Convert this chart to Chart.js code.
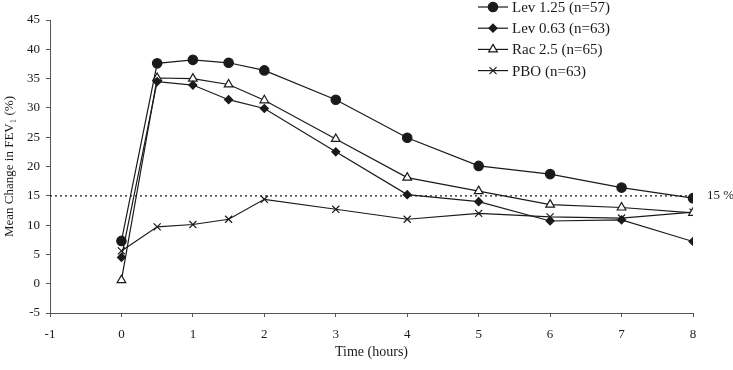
<!DOCTYPE html>
<html>
<head>
<meta charset="utf-8">
<script src="https://cdn.jsdelivr.net/npm/chart.js@4/dist/chart.umd.min.js"></script>
<style>
    body { margin: 0; background: #fff; }
    #wrap { width: 733px; height: 370px; }
</style>
</head>
<body>
<div id="wrap"><canvas id="fevChart" width="733" height="370"></canvas></div>
<script>
// time points (hours) and mean change in FEV1 (%)
const hours = [0, 0.5, 1, 1.5, 2, 3, 4, 5, 6, 7, 8];
const lev125 = [7.3, 37.6, 38.2, 37.7, 36.4, 31.4, 24.9, 20.1, 18.7, 16.4, 14.6];
const lev063 = [4.5, 34.5, 33.9, 31.4, 29.9, 22.5, 15.2, 14.0, 10.7, 10.9, 7.2];
const rac25 = [0.6, 35.1, 35.0, 34.0, 31.3, 24.7, 18.1, 15.8, 13.5, 13.0, 12.1];
const pbo = [5.6, 9.7, 10.1, 11.0, 14.4, 12.7, 11.0, 12.0, 11.4, 11.2, 12.2];

const seriesNames = ['Lev 1.25 (n=57)', 'Lev 0.63 (n=63)', 'Rac 2.5 (n=65)', 'PBO (n=63)'];
const xRange = [-1, 8];
const yRange = [-5, 45];
const threshold = 15;
const thresholdLabel = '15 %';

const INK = '#1a1a1a';
const FONT = "'Liberation Serif', 'DejaVu Serif', serif";

function toPoints(values) {
    return hours.map((h, i) => ({ x: h, y: values[i] }));
}

function series(label, values, style, radius, fill) {
    return {
        label: label,
        data: toPoints(values),
        borderColor: INK,
        borderWidth: 1.2,
        pointStyle: style,
        pointRadius: radius,
        pointBorderWidth: 1.2,
        pointBorderColor: INK,
        pointBackgroundColor: fill,
        tension: 0,
    };
}

const datasets = [
    series(seriesNames[0], lev125, 'circle', 4.7, INK),
    series(seriesNames[1], lev063, 'rectRot', 4, INK),
    series(seriesNames[2], rac25, 'triangle', 5, '#fff'),
    series(seriesNames[3], pbo, 'crossRot', 5, INK),
];

// dotted 15% reference line
datasets.push({
    label: 'ref',
    isRef: true,
    data: [{ x: xRange[0], y: threshold }, { x: xRange[1], y: threshold }],
    borderColor: INK,
    borderWidth: 1.2,
    borderDash: [2, 3],
    pointRadius: 0,
});

// legend in the top right corner, drawn by hand
const legendBox = {
    id: 'legendBox',
    afterDraw(chart) {
        const ctx = chart.ctx;
        ctx.save();
        chart.data.datasets.filter(d => !d.isRef).forEach((ds, i) => {
            const y = 7 + i * 21.2;
            ctx.strokeStyle = INK;
            ctx.lineWidth = 1.2;
            ctx.beginPath();
            ctx.moveTo(478, y);
            ctx.lineTo(508, y);
            ctx.stroke();
            ctx.fillStyle = ds.pointBackgroundColor;
            Chart.helpers.drawPoint(ctx, {
                pointStyle: ds.pointStyle,
                radius: ds.pointRadius,
                borderWidth: 1.2,
                rotation: 0,
            }, 493, y);
            ctx.fillStyle = INK;
            ctx.font = '15px ' + FONT;
            ctx.textBaseline = 'middle';
            ctx.textAlign = 'left';
            ctx.fillText(ds.label, 512, y + 1);
        });

        // label at the end of the dotted line
        const yPix = chart.scales.y.getPixelForValue(threshold);
        ctx.font = '13px ' + FONT;
        ctx.textBaseline = 'middle';
        ctx.fillText(thresholdLabel, chart.chartArea.right + 14, yPix);
        ctx.restore();
    },
};

const ctx = document.getElementById('fevChart').getContext('2d');
const fevChart = new Chart(ctx, {
    type: 'line',
    data: { datasets: datasets },
    options: {
        responsive: false,
        animation: false,
        maintainAspectRatio: false,
        layout: { padding: { top: 20, right: 40, left: 0, bottom: 0 } },
        plugins: {
            legend: { display: false },
            tooltip: { enabled: false },
        },
        scales: {
            x: {
                type: 'linear',
                min: xRange[0],
                max: xRange[1],
                afterFit: (s) => { s.height = 57; },
                ticks: { stepSize: 1, color: INK, padding: 10, font: { family: FONT, size: 13 } },
                grid: { drawOnChartArea: false, drawTicks: true, tickLength: 4, color: '#555' },
                border: { display: true, color: '#555', width: 1 },
                title: {
                    display: true,
                    text: 'Time (hours)',
                    color: INK,
                    padding: { top: 9, bottom: 9 },
                    font: { family: FONT, size: 14 },
                },
            },
            y: {
                min: yRange[0],
                max: yRange[1],
                afterFit: (s) => { s.width = 50; },
                ticks: { stepSize: 5, color: INK, padding: 6, font: { family: FONT, size: 13 } },
                grid: { drawOnChartArea: false, drawTicks: true, tickLength: 4, color: '#555' },
                border: { display: true, color: '#555', width: 1 },
                title: {
                    display: true,
                    text: 'Mean Change in FEV\u2081 (%)',
                    color: INK,
                    padding: { top: 2, bottom: 2 },
                    font: { family: FONT, size: 13 },
                },
            },
        },
    },
    plugins: [legendBox],
});
</script>
</body>
</html>
